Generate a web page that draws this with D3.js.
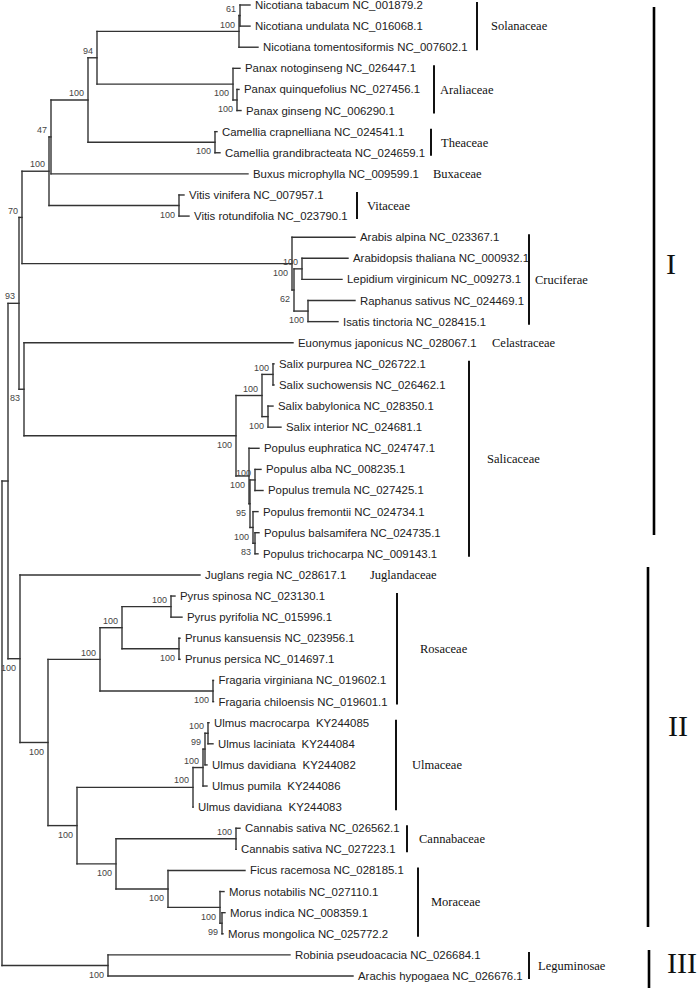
<!DOCTYPE html>
<html><head><meta charset="utf-8">
<script src="https://cdn.jsdelivr.net/npm/d3@7"></script>
<style>
html,body{margin:0;padding:0;background:#fff;}
svg{display:block;}
</style></head><body>
<svg id="chart" width="697" height="988"></svg>
<script>
// ---------- DATA ----------
const taxa = [
  "Nicotiana tabacum NC_001879.2","Nicotiana undulata NC_016068.1","Nicotiana tomentosiformis NC_007602.1",
  "Panax notoginseng NC_026447.1","Panax quinquefolius NC_027456.1","Panax ginseng NC_006290.1",
  "Camellia crapnelliana NC_024541.1","Camellia grandibracteata NC_024659.1","Buxus microphylla NC_009599.1",
  "Vitis vinifera NC_007957.1","Vitis rotundifolia NC_023790.1","Arabis alpina NC_023367.1",
  "Arabidopsis thaliana NC_000932.1","Lepidium virginicum NC_009273.1","Raphanus sativus NC_024469.1",
  "Isatis tinctoria NC_028415.1","Euonymus japonicus NC_028067.1","Salix purpurea NC_026722.1",
  "Salix suchowensis NC_026462.1","Salix babylonica NC_028350.1","Salix interior NC_024681.1",
  "Populus euphratica NC_024747.1","Populus alba NC_008235.1","Populus tremula NC_027425.1",
  "Populus fremontii NC_024734.1","Populus balsamifera NC_024735.1","Populus trichocarpa NC_009143.1",
  "Juglans regia NC_028617.1","Pyrus spinosa NC_023130.1","Pyrus pyrifolia NC_015996.1",
  "Prunus kansuensis NC_023956.1","Prunus persica NC_014697.1","Fragaria virginiana NC_019602.1",
  "Fragaria chiloensis NC_019601.1","Ulmus macrocarpa  KY244085","Ulmus laciniata  KY244084",
  "Ulmus davidiana  KY244082","Ulmus pumila  KY244086","Ulmus davidiana  KY244083",
  "Cannabis sativa NC_026562.1","Cannabis sativa NC_027223.1","Ficus racemosa NC_028185.1",
  "Morus notabilis NC_027110.1","Morus indica NC_008359.1","Morus mongolica NC_025772.2",
  "Robinia pseudoacacia NC_026684.1","Arachis hypogaea NC_026676.1"
];
const tipParent = [
  "TU","TU","Nico","Panax","QG","QG","Camellia","Camellia","N47","Vitis","Vitis","Cruc",
  "AL","AL","RI","RI","E","PS","PS","BI","BI","P","AT","AT","FBT","BT","BT","J",
  "Pyrus","Pyrus","Prunus","Prunus","Fragaria","Fragaria","U1","U1","U2","U3","Ulm",
  "Cannabis","Cannabis","Mor","Morus","IM","IM","Leg","Leg"
];
// branch lengths (units of 1e-4 substitutions/site)
const tipLength = [
  10,10,19,7,2,4,2,5,197,5,10,63,46,40,47,30,269,1,1,5,13,10,6,8,5,4,3,180,
  4,11,1,1,0.5,0.5,1,5,2,4,0,4,0,77,4,3,1,182,245
];
const nodeId = ["R","I","N93","N70","Nb100","N47","SAT","N94","Nico","TU","Panax","QG","Camellia","Vitis",
  "Cruc","N62","AL","RI","E","S","Salix","PS","BI","P","Q","AT","FBT","BT",
  "J","K","Ros","PP","Pyrus","Prunus","Fragaria","L","Ulm","U3","U2","U1","M","Cannabis","Mor","Morus","IM","Leg"];
const nodeParent = ["","R","I","N93","N70","Nb100","N47","SAT","N94","Nico","N94","Panax","SAT","Nb100",
  "N70","Cruc","N62","N62","N93","E","S","Salix","Salix","S","P","Q","Q","FBT",
  "I","J","K","Ros","PP","PP","Ros","K","L","Ulm","U3","U2","L","M","M","Mor","Morus","R"];
const nodeLength = [0,6,11,3,27,2,37,9,142,1,136,4,127,130,
  270,2,8,14,5,212,26,11,6,13,1,5,3,2,
  12,28,52,22,49,57,113,29,116,10,2,3,39,120,52,52,2,106];
const nodeSupport = [null,null,93,70,100,47,100,94,100,61,100,100,100,100,
  100,62,100,100,83,100,100,100,100,100,95,100,100,83,
  100,100,100,100,100,100,100,100,100,100,99,100,100,100,100,100,99,100];
const supportSide = ["","","u","u","u","u","u","u","u","u","d","d","d","d",
  "d","d","u","d","d","d","u","u","d","d","d","u","d","d",
  "d","d","u","u","u","d","d","d","u","u","u","u","d","u","d","d","d","d"];

const families = ["Solanaceae","Araliaceae","Theaceae","Buxaceae","Vitaceae","Cruciferae","Celastraceae",
  "Salicaceae","Juglandaceae","Rosaceae","Ulmaceae","Cannabaceae","Moraceae","Leguminosae"];
const familyFirst = [0,3,6,8,9,11,16,17,27,28,34,39,41,45];
const familyLast  = [2,5,7,8,10,15,16,26,27,33,38,40,44,46];

const groups = ["I","II","III"];
const groupFirst = [0,27,45];
const groupLast = [26,44,46];

// ---------- LAYOUT (positions/styles only) ----------
const famBarX  = [477,434,431,null,357,529,null,469,null,397,396,407,418,529];
const famTextX = [491,440,441,433,367,535,492,487,370,420,412,419,431,538];
const grpBarX = [654,648,649];
const grpBarY = [[7,535],[567,927],[950,990]];
const grpText = [[671,263],[678,725],[682,962]];

// ---------- BUILD ----------
const rows = [];
nodeId.forEach((id,i)=>rows.push({id, parentId: nodeParent[i]||null, len: nodeLength[i], support: nodeSupport[i], side: supportSide[i]}));
taxa.forEach((t,i)=>rows.push({id:"t"+i, parentId: tipParent[i], len: tipLength[i], name: t, idx: i}));
const root = d3.stratify().id(d=>d.id).parentId(d=>d.parentId)(rows);

root.eachAfter(d=>{ d.minIdx = d.children ? d3.min(d.children,c=>c.minIdx) : d.data.idx; });
root.eachBefore(d=>{ if(d.children) d.children.sort((a,b)=>a.minIdx-b.minIdx); });
root.eachBefore(d=>{ d.dist = (d.parent ? d.parent.dist : 0) + d.data.len; });

const y = d3.scaleLinear().domain([0, taxa.length-1]).range([5, 976]);
const x = d3.scaleLinear().domain([0, 352]).range([2, 354]);

root.eachAfter(d=>{
  if(!d.children) d.py = y(d.data.idx);
  else d.py = (d.children[0].py + d.children[d.children.length-1].py)/2;
  d.px = x(d.dist);
});

const svg = d3.select("#chart");
const g = svg.append("g");
const stroke = "#333";

// horizontal branches
g.selectAll("line.h").data(root.descendants().filter(d=>d.parent)).join("line")
  .attr("x1",d=>d.parent.px).attr("x2",d=>d.px)
  .attr("y1",d=>d.py).attr("y2",d=>d.py)
  .attr("stroke",stroke).attr("stroke-width",1.4).attr("stroke-linecap","square");
// vertical connectors
g.selectAll("line.v").data(root.descendants().filter(d=>d.children)).join("line")
  .attr("x1",d=>d.px).attr("x2",d=>d.px)
  .attr("y1",d=>d.children[0].py).attr("y2",d=>d.children[d.children.length-1].py)
  .attr("stroke",stroke).attr("stroke-width",1.4).attr("stroke-linecap","square");

// leaf labels
g.selectAll("text.leaf").data(root.leaves()).join("text")
  .attr("x",d=>d.px+5).attr("y",d=>d.py).attr("dy","0.35em")
  .attr("font-family","'Liberation Sans', Arial, sans-serif").attr("font-size","11.4px")
  .attr("fill","#222").style("white-space","pre")
  .text(d=>d.data.name);

// bootstrap labels
g.selectAll("text.bs").data(root.descendants().filter(d=>d.data.support!=null)).join("text")
  .attr("x",d=>d.px-4).attr("y",d=>d.py + (d.data.side==="u" ? -7 : 9)).attr("dy","0.35em")
  .attr("text-anchor","end")
  .attr("font-family","'Liberation Sans', Arial, sans-serif").attr("font-size","9px")
  .attr("fill","#444")
  .text(d=>d.data.support);

// family bars and labels
families.forEach((f,i)=>{
  const y0 = y(familyFirst[i]), y1 = y(familyLast[i]);
  if(famBarX[i]!=null){
    svg.append("line").attr("x1",famBarX[i]).attr("x2",famBarX[i])
      .attr("y1",y0-3).attr("y2",y1+3).attr("stroke","#111").attr("stroke-width",2);
  }
  svg.append("text").attr("x",famTextX[i]).attr("y",(y0+y1)/2).attr("dy","0.35em")
    .attr("font-family","'Liberation Serif', 'Times New Roman', serif").attr("font-size","12.5px")
    .attr("fill","#111").text(f);
});

// group bars and labels
groups.forEach((gname,i)=>{
  svg.append("line").attr("x1",grpBarX[i]).attr("x2",grpBarX[i])
    .attr("y1",grpBarY[i][0]).attr("y2",grpBarY[i][1]).attr("stroke","#000").attr("stroke-width",2.6);
  svg.append("text").attr("x",grpText[i][0]).attr("y",grpText[i][1]).attr("dy","0.35em")
    .attr("text-anchor","middle")
    .attr("font-family","'Liberation Serif', 'Times New Roman', serif").attr("font-size","30px")
    .attr("fill","#111").text(gname);
});
</script>
</body></html>
